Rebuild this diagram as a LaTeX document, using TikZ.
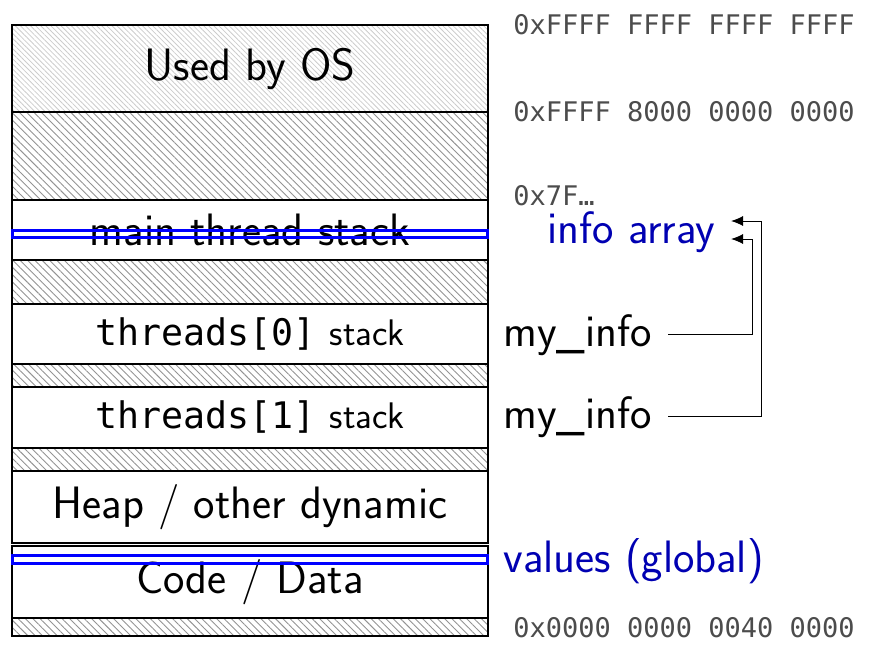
\documentclass[tikz,border=0pt]{standalone}
\usepackage{fontspec}
\setmonofont{DejaVu Sans Mono}
\usetikzlibrary{arrows.meta,patterns.meta,calc}
\tikzset{
  region/.style={draw, line width=0.6pt, minimum width=238pt, minimum height=#1,
    inner sep=0pt, font=\sffamily\fontsize{22.7}{27}\selectfont},
  unused/.style={pattern={Lines[angle=-45,distance=2.6pt,line width=0.45pt]}, pattern color=gray!85},
  osused/.style={pattern={Lines[angle=-45,distance=1.8pt,line width=0.4pt]}, pattern color=gray!40},
  hilite/.style={draw=blue, line width=1.7pt, minimum width=237.5pt, minimum height=#1, inner sep=0pt},
  addr/.style={anchor=base west, inner sep=0pt, text=black!70, font=\ttfamily\fontsize{13.5}{16}\selectfont},
  lbl/.style={anchor=base west, inner sep=0pt, font=\sffamily\fontsize{22.7}{27}\selectfont},
  ptr/.style={-{Latex[length=6pt,width=5pt]}, line width=0.5pt},
}
\colorlet{infoblue}{blue!70!black}

\begin{document}
\begin{tikzpicture}[x=0.5pt,y=-0.5pt]
  \useasboundingbox (0,0) rectangle (870,652);
  % address space, top to bottom
  \node[region=43.5pt, osused] (os) at (250,68.5) {Used by OS};
  \node[region=44pt, unused] (gapK) at (250,156) {};
  \node[region=30pt] (mainstk) at (250,230) {main thread stack};
  \node[region=22pt, unused] (gapA) at (250,282) {};
  \node[region=30pt] (stk0) at (250,334)
    {{\ttfamily\fontsize{18.3}{22}\selectfont threads[0]} {\fontsize{18.5}{22}\selectfont stack}};
  \node[region=11.5pt, unused] (gapB) at (250,375.5) {};
  \node[region=30.5pt] (stk1) at (250,417.5)
    {{\ttfamily\fontsize{18.3}{22}\selectfont threads[1]} {\fontsize{18.5}{22}\selectfont stack}};
  \node[region=11.5pt, unused] (gapC) at (250,459.5) {};
  \node[region=36pt] (heap) at (250,507) {Heap / other dynamic};
  \node[region=36pt] (code) at (250,582) {Code / Data};
  \node[region=9pt, unused] (gapD) at (250,627) {};
  % highlighted variables
  \node[hilite=3.5pt] (infohl) at (250,234) {};
  \node[hilite=4pt] (valhl) at (250,559.5) {};
  % addresses
  \node[addr] (aTop) at (513,35) {0xFFFF FFFF FFFF FFFF};
  \node[addr] (aKern) at (513,122) {0xFFFF 8000 0000 0000};
  \node[addr] (aStk) at (513,205) {0x7F…};
  \node[addr] (aLow) at (513,637) {0x0000 0000 0040 0000};
  % labels
  \node[lbl, text=infoblue] (info) at (547,243) {info array};
  \node[lbl] (my0) at (503,346) {my\_info};
  \node[lbl] (my1) at (503,428) {my\_info};
  \node[lbl, text=infoblue] (vals) at (503,572) {values (global)};
  % pointers into info array
  \coordinate (tip0) at (731,239);
  \coordinate (tip1) at (731,221);
  \draw[ptr] ([xshift=8pt]my0.east) -| ($(tip0)+(21,0)$) -- (tip0);
  \draw[ptr] ([xshift=8pt]my1.east) -| ($(tip1)+(30,0)$) -- (tip1);
\end{tikzpicture}
\end{document}
